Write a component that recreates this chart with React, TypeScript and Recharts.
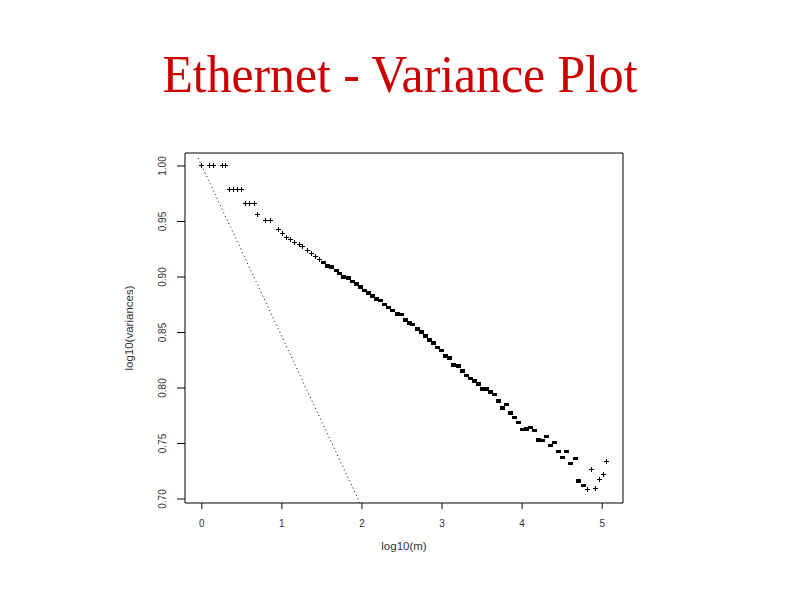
import React from "react";
import {
  ReferenceArea,
  ReferenceLine,
  Scatter,
  ScatterChart,
  XAxis,
  YAxis,
} from "recharts";

// log10(m) of each aggregation level
const logM = [
  0.0, 0.1, 0.15, 0.26, 0.3, 0.35, 0.4, 0.45, 0.5, 0.55, 0.6, 0.66, 0.7, 0.8,
  0.86, 0.96, 1.01, 1.06, 1.11, 1.16, 1.22, 1.26, 1.32, 1.37, 1.42, 1.47, 1.52,
  1.57, 1.62, 1.68, 1.72, 1.77, 1.83, 1.88, 1.93, 1.98, 2.03, 2.08, 2.13, 2.18,
  2.23, 2.28, 2.33, 2.38, 2.44, 2.49, 2.54, 2.59, 2.63, 2.69, 2.74, 2.79, 2.84,
  2.89, 2.94, 2.99, 3.04, 3.09, 3.14, 3.2, 3.25, 3.3, 3.35, 3.4, 3.45, 3.5,
  3.55, 3.6, 3.65, 3.7, 3.75, 3.8, 3.85, 3.9, 3.95, 4.0, 4.05, 4.11, 4.16, 4.21,
  4.25, 4.31, 4.36, 4.41, 4.46, 4.51, 4.56, 4.61, 4.67, 4.71, 4.77, 4.82, 4.87,
  4.92, 4.97, 5.02, 5.06,
];

// log10(variances), normalised
const logVar = [
  1.0, 1.0, 1.0, 1.0, 1.0, 0.979, 0.979, 0.979, 0.979, 0.966, 0.966, 0.966,
  0.9565, 0.9505, 0.9505, 0.9424, 0.9388, 0.936, 0.9334, 0.9307, 0.9295,
  0.9274, 0.9235, 0.921, 0.9184, 0.916, 0.913, 0.91, 0.909, 0.9058, 0.903, 0.9,
  0.899, 0.896, 0.8935, 0.891, 0.888, 0.8857, 0.883, 0.88, 0.8788, 0.875,
  0.8725, 0.87, 0.8665, 0.866, 0.8614, 0.8587, 0.857, 0.853, 0.8503, 0.847,
  0.8434, 0.8407, 0.8365, 0.834, 0.8287, 0.8272, 0.8206, 0.8197, 0.8152,
  0.8113, 0.8086, 0.8063, 0.8038, 0.799, 0.7993, 0.7966, 0.7942, 0.7882, 0.782,
  0.7853, 0.7774, 0.7735, 0.769, 0.7624, 0.763, 0.7645, 0.7615, 0.7531, 0.7528,
  0.7564, 0.7482, 0.7507, 0.7426, 0.7372, 0.7428, 0.7318, 0.7366, 0.7162,
  0.712, 0.7084, 0.7264, 0.7099, 0.7174, 0.7225, 0.7336,
];

const xTicks = [0, 1, 2, 3, 4, 5];
const yTicks = [0.7, 0.75, 0.8, 0.85, 0.9, 0.95, 1.0];
const xDomain = [-0.21, 5.26];
const yDomain = [0.6964, 1.0117];

// slope reference line end points
const refX = [-0.046, 1.974];
const refY = [1.0072, 0.6964];

const points = logM.map((x, i) => ({ x, y: logVar[i] }));

const tickFont = "'Liberation Sans', Arial, sans-serif";

const Marker = (props: any) => {
  const { cx, cy, payload } = props;
  if (cx == null || cy == null) return null;
  const solid = payload.x >= 1.5 && payload.x <= 4.8;
  if (solid) {
    return (
      <rect
        x={cx - 2.5}
        y={cy - 1.75}
        width={5}
        height={3.5}
        fill="#000"
        shapeRendering="crispEdges"
      />
    );
  }
  return (
    <path
      d={`M${cx - 2.5},${cy}H${cx + 2.5}M${cx},${cy - 2.5}V${cy + 2.5}`}
      stroke="#000"
      strokeWidth={1}
      shapeRendering="crispEdges"
    />
  );
};

const XTick = ({ x, y, payload }: any) => (
  <text
    x={x}
    y={y + 17.5}
    textAnchor="middle"
    fontSize={10}
    fontFamily={tickFont}
    fill="#333"
  >
    {payload.value}
  </text>
);

const YTick = ({ x, y, payload }: any) => {
  const tx = x - 10.5;
  return (
    <text
      x={tx}
      y={y}
      transform={`rotate(-90 ${tx} ${y})`}
      textAnchor="middle"
      fontSize={10}
      fontFamily={tickFont}
      fill="#333"
    >
      {Number(payload.value).toFixed(2)}
    </text>
  );
};

export default function App() {
  return (
    <div
      style={{
        position: "absolute",
        left: 0,
        top: 0,
        width: 800,
        height: 600,
        background: "#fff",
      }}
    >
      <svg
        width={800}
        height={120}
        style={{ position: "absolute", left: 0, top: 0 }}
      >
        <text
          x={400}
          y={92}
          textAnchor="middle"
          fontSize={53}
          textLength={475}
          lengthAdjust="spacingAndGlyphs"
          fontFamily="'Liberation Serif', 'Times New Roman', serif"
          fill="#CC0000"
        >
          Ethernet - Variance Plot
        </text>
      </svg>
      <div style={{ position: "absolute", left: 0, top: 0 }}>
        <ScatterChart
          width={800}
          height={600}
          margin={{ top: 153, right: 177, bottom: 0, left: 0 }}
        >
          <XAxis
            type="number"
            dataKey="x"
            domain={xDomain}
            ticks={xTicks}
            allowDataOverflow
            axisLine={false}
            tickSize={6}
            tickMargin={0}
            tickLine={{ stroke: "#000" }}
            tick={<XTick />}
            height={97}
            label={{
              content: ({ viewBox }: any) => (
                <text
                  x={viewBox.x + viewBox.width / 2}
                  y={550}
                  textAnchor="middle"
                  fontSize={11.5}
                  fontFamily={tickFont}
                  fill="#333"
                >
                  log10(m)
                </text>
              ),
            }}
          />
          <YAxis
            type="number"
            dataKey="y"
            domain={yDomain}
            ticks={yTicks}
            allowDataOverflow
            axisLine={false}
            tickSize={8}
            tickMargin={0}
            tickLine={{ stroke: "#000" }}
            tick={<YTick />}
            width={185}
            label={{
              content: ({ viewBox }: any) => {
                const cy = viewBox.y + viewBox.height / 2;
                return (
                  <text
                    x={133}
                    y={cy}
                    transform={`rotate(-90 133 ${cy})`}
                    textAnchor="middle"
                    fontSize={11.5}
                    fontFamily={tickFont}
                    fill="#333"
                  >
                    log10(variances)
                  </text>
                );
              },
            }}
          />
          <ReferenceArea
            x1={xDomain[0]}
            x2={xDomain[1]}
            y1={yDomain[0]}
            y2={yDomain[1]}
            fill="none"
            fillOpacity={0}
            stroke="#000"
            strokeWidth={1}
            ifOverflow="visible"
          />
          <ReferenceLine
            segment={[
              { x: refX[0], y: refY[0] },
              { x: refX[1], y: refY[1] },
            ]}
            stroke="#000"
            strokeWidth={1}
            strokeDasharray="1 3"
            ifOverflow="visible"
          />
          <Scatter
            data={points}
            shape={<Marker />}
            isAnimationActive={false}
          />
        </ScatterChart>
      </div>
    </div>
  );
}
